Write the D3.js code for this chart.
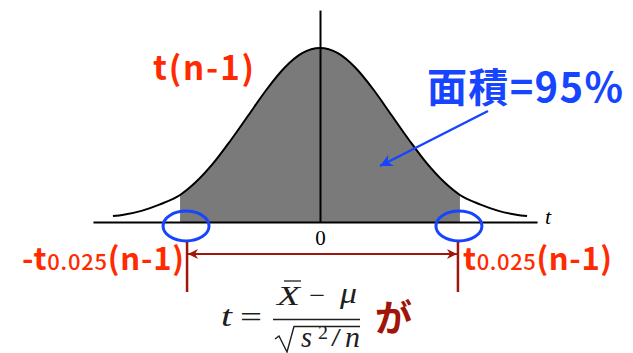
<!DOCTYPE html>
<html lang="ja">
<head>
<meta charset="UTF-8">
<title>t分布</title>
<style>
  body { margin: 0; background: #fff; }
  svg { display: block; }
</style>
</head>
<body>
<svg width="633" height="353" id="svg"></svg>
<script src="https://d3js.org/d3.v7.min.js"></script>
<script>
  // t values and relative density (peak = 1)
  const tValues = [-2.9, -2.75, -2.5, -2.25, -1.96, -1.75, -1.5, -1.25, -1, -0.75, -0.5, -0.25, 0,
                   0.25, 0.5, 0.75, 1, 1.25, 1.5, 1.75, 1.96, 2.25, 2.5, 2.75, 2.9]
  const density = [0.034, 0.042, 0.064, 0.1, 0.155, 0.225, 0.335, 0.47, 0.615, 0.76, 0.885, 0.97, 1,
                   0.97, 0.885, 0.76, 0.615, 0.47, 0.335, 0.225, 0.155, 0.1, 0.064, 0.042, 0.034]
  const critical = [-1.96, 1.96]
  const xTicks = [0]
  const xDomain = [-3.18, 3.04]
  const yTop = 1.218

  const curve = tValues.map((t, i) => ({ t: t, d: density[i] }))

  const svg = d3.select("svg#svg")
  const x = d3.scaleLinear().domain([-1, 1]).range([320 - 71.4, 320 + 71.4])
  const y = d3.scaleLinear().domain([0, 1]).range([222, 48])

  const red = "#ff2a00"
  const darkRed = "#a0150a"
  const blue = "#1745ff"
  const serif = "'Liberation Serif', 'DejaVu Serif', serif"

  // shaded 95% area
  const area = d3.area()
    .x(d => x(d.t))
    .y0(y(0))
    .y1(d => y(d.d))
    .curve(d3.curveMonotoneX)
  svg.append("path")
    .datum(curve.filter(d => d.t >= critical[0] && d.t <= critical[1]))
    .attr("fill", "#7a7a7a")
    .attr("d", area)

  // density curve
  const line = d3.line().x(d => x(d.t)).y(d => y(d.d)).curve(d3.curveMonotoneX)
  svg.append("path")
    .datum(curve)
    .attr("fill", "none")
    .attr("stroke", "#000")
    .attr("stroke-width", 2)
    .attr("d", line)

  // axes
  const xAxisScale = x.copy().domain(xDomain).range(xDomain.map(x))
  const xAxis = svg.append("g")
    .attr("transform", `translate(0, ${y(0)})`)
    .call(d3.axisBottom(xAxisScale).tickValues(xTicks).tickFormat(d3.format("d"))
      .tickSize(0).tickSizeOuter(0).tickPadding(8))
  xAxis.attr("font-family", serif).attr("font-size", 21)
  xAxis.select(".domain").attr("stroke-width", 2)
  xAxis.selectAll("text").attr("fill", "#000")

  const yAxisScale = y.copy().domain([0, yTop]).range([y(0), y(yTop)])
  const yAxis = svg.append("g")
    .attr("transform", `translate(${x(0)}, 0)`)
    .call(d3.axisLeft(yAxisScale).tickValues([]).tickSizeOuter(0))
  yAxis.select(".domain").attr("stroke-width", 2)

  svg.append("text")
    .attr("x", xAxisScale(xDomain[1]) + 8)
    .attr("y", y(0) + 2)
    .attr("font-family", serif)
    .attr("font-style", "italic")
    .attr("font-size", 22)
    .text("t")

  // blue ellipses at critical points
  svg.selectAll("ellipse.crit")
    .data(critical)
    .join("ellipse")
    .attr("class", "crit")
    .attr("cx", d => x(d) + (d < 0 ? 6 : -1))
    .attr("cy", y(0) + 4)
    .attr("rx", 23)
    .attr("ry", 15)
    .attr("fill", "none")
    .attr("stroke", blue)
    .attr("stroke-width", 3)

  // arrow heads
  const defs = svg.append("defs")
  defs.append("marker")
    .attr("id", "redHead")
    .attr("viewBox", "0 0 10 10")
    .attr("refX", 10).attr("refY", 5)
    .attr("markerWidth", 5).attr("markerHeight", 5)
    .attr("orient", "auto-start-reverse")
    .attr("markerUnits", "strokeWidth")
    .append("path").attr("d", "M0,0 L10,5 L0,10 L3,5 Z").attr("fill", darkRed)
  defs.append("marker")
    .attr("id", "blueHead")
    .attr("viewBox", "0 0 10 10")
    .attr("refX", 10).attr("refY", 5)
    .attr("markerWidth", 5).attr("markerHeight", 5)
    .attr("orient", "auto")
    .attr("markerUnits", "strokeWidth")
    .append("path").attr("d", "M0,0 L10,5 L0,10 L3,5 Z").attr("fill", blue)

  // dark red markers and interval arrow
  const markX = critical.map(d => x(d) + (d < 0 ? 7 : -2))
  svg.selectAll("line.mark")
    .data(markX)
    .join("line")
    .attr("class", "mark")
    .attr("x1", d => d).attr("x2", d => d)
    .attr("y1", 242).attr("y2", 292)
    .attr("stroke", darkRed)
    .attr("stroke-width", 2.5)

  svg.append("line")
    .attr("x1", markX[0] + 1).attr("x2", markX[1] - 1)
    .attr("y1", 254).attr("y2", 254)
    .attr("stroke", darkRed)
    .attr("stroke-width", 2)
    .attr("marker-start", "url(#redHead)")
    .attr("marker-end", "url(#redHead)")

  // labels
  const sans = "'Noto Sans CJK JP', 'Noto Sans', sans-serif"

  svg.append("text")
    .attr("x", 153).attr("y", 80)
    .attr("font-family", sans).attr("font-weight", "bold")
    .attr("font-size", 33).attr("fill", red)
    .attr("textLength", 101).attr("lengthAdjust", "spacing")
    .text("t(n-1)")

  svg.append("text")
    .attr("x", 427).attr("y", 102)
    .attr("font-family", sans).attr("font-weight", "bold")
    .attr("font-size", 40).attr("fill", blue)
    .attr("textLength", 196).attr("lengthAdjust", "spacing")
    .text("面積=95%")

  svg.append("line")
    .attr("x1", 488).attr("y1", 111)
    .attr("x2", 380).attr("y2", 166)
    .attr("stroke", blue)
    .attr("stroke-width", 2.5)
    .attr("marker-end", "url(#blueHead)")

  function critLabel(xPos, width, minus) {
    const t = svg.append("text")
      .attr("x", xPos).attr("y", 270)
      .attr("font-family", sans).attr("font-weight", "bold")
      .attr("fill", red)
      .attr("textLength", width).attr("lengthAdjust", "spacing")
    t.append("tspan").attr("font-size", 31).text((minus ? "-" : "") + "t")
    t.append("tspan").attr("font-size", 22).attr("font-weight", 500).text("0.025")
    t.append("tspan").attr("font-size", 31).text("(n-1)")
  }
  critLabel(22, 162, true)
  critLabel(463, 149, false)

  // formula: each glyph stretched to the width it has in the picture
  const ink = "#1e1e1e"
  const f = svg.append("g").attr("font-family", serif).attr("fill", ink).attr("font-size", 29)
  function glyph(s, gx, gy, w, italic, size) {
    f.append("text").attr("x", gx).attr("y", gy)
      .attr("font-style", italic ? "italic" : "normal")
      .attr("font-size", size || 29)
      .attr("textLength", w).attr("lengthAdjust", "spacingAndGlyphs")
      .text(s)
  }
  glyph("t", 221, 326, 11, true)
  glyph("=", 240, 327, 22, false)
  f.append("line").attr("x1", 273).attr("x2", 360).attr("y1", 319.5).attr("y2", 319.5)
    .attr("stroke", ink).attr("stroke-width", 1.4)
  // numerator
  glyph("X", 277, 305, 23, true, 27)
  f.append("line").attr("x1", 284).attr("x2", 301).attr("y1", 281).attr("y2", 281)
    .attr("stroke", ink).attr("stroke-width", 1.3)
  glyph("−", 309, 305, 16, false)
  glyph("μ", 340, 303, 17, true)
  // denominator
  f.append("path").attr("d", "M275,339 L279,336 L287,352 L294,326.5 L360,326.5")
    .attr("fill", "none").attr("stroke", ink).attr("stroke-width", 1.4)
  glyph("s", 301, 347, 11, true)
  glyph("2", 318, 339, 10, false, 19)
  glyph("/", 331, 346, 10, false, 26)
  glyph("n", 345, 347, 15, true)

  svg.append("text")
    .attr("x", 375).attr("y", 332)
    .attr("font-family", sans).attr("font-weight", "bold")
    .attr("font-size", 37).attr("fill", darkRed)
    .text("が")
</script>
</body>
</html>
